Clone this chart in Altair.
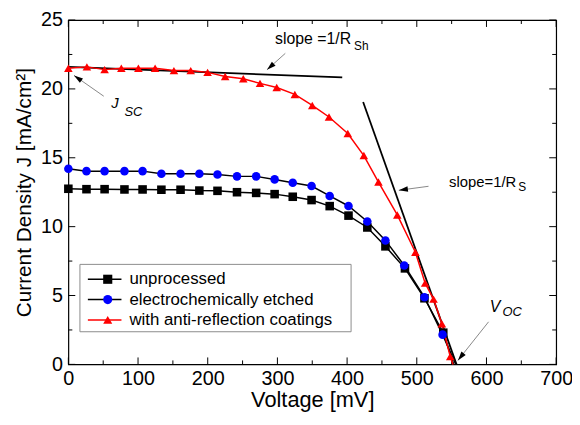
import math
import altair as alt
import pandas as pd

FONT = "Liberation Sans"

series_names = ["unprocessed", "electrochemically etched", "with anti-reflection coatings"]
line_colors = ["#000000", "#000000", "#ff0000"]
marker_colors = ["#000000", "#0000ff", "#ff0000"]
marker_shapes = ["square", "circle", "triangle-up"]

# unprocessed (black squares)
v_unproc = [0, 26, 52, 80.5, 106.5, 133.5, 161, 188, 214, 242, 269.5, 296, 322, 349, 375, 402, 429, 455, 483, 511, 538, 553]
j_unproc = [12.75, 12.72, 12.72, 12.70, 12.70, 12.68, 12.68, 12.62, 12.60, 12.50, 12.45, 12.36, 12.17, 11.93, 11.49, 10.80, 9.94, 8.57, 6.97, 4.80, 2.30, 0.0]
# electrochemically etched (blue circles)
v_etch = [0, 26, 52, 80.5, 106.5, 133.5, 161, 188, 214, 242, 269.5, 296, 322, 349, 375, 402, 429, 455, 482, 511, 537, 556]
j_etch = [14.2, 14.03, 14.03, 14.03, 14.03, 13.84, 13.84, 13.84, 13.79, 13.65, 13.65, 13.43, 13.19, 12.95, 12.23, 11.5, 10.37, 9.0, 7.18, 4.88, 2.16, 0.0]
# with anti-reflection coatings (red triangles)
v_arc = [0, 26.6, 52, 76, 100.5, 124.5, 151.5, 175.6, 199.8, 225, 251, 275, 299, 325, 350, 374, 401, 424, 445, 472, 498, 512, 524, 536, 548, 552]
j_arc = [21.5, 21.6, 21.4, 21.5, 21.5, 21.5, 21.33, 21.33, 21.2, 20.9, 20.74, 20.4, 20.1, 19.6, 18.8, 17.96, 16.76, 15.16, 13.24, 10.85, 8.14, 5.9, 4.74, 2.95, 0.57, 0.0]

# tangent lines (slope = 1/R_Sh and slope = 1/R_S)
tan_seg = ["sh", "sh", "s", "s"]
tan_v = [0, 393, 423, 557]
tan_j = [21.6, 20.83, 19.05, 0.0]

# annotation arrows: tail -> head
arr_tail_v = [311.3, 50.8, 516.8, 603.0]
arr_tail_j = [22.58, 19.47, 12.93, 3.09]
arr_head_v = [285.0, 8.1, 474.2, 559.0]
arr_head_j = [21.39, 20.98, 12.64, 0.29]

# annotation main texts (right end) and subscripts (left start)
main_text = ["slope =1/R", "J", "slope=1/R", "V"]
main_v = [405.8, 72.1, 642.8, 620.0]
main_j = [23.23, 18.6, 12.88, 3.81]
main_size = [16, 15, 15, 16]
main_style = ["normal", "italic", "normal", "italic"]
sub_text = ["Sh", "SC", "S", "OC"]
sub_v = [409.9, 80.5, 645.6, 622.9]
sub_j = [22.8, 18.0, 12.6, 3.5]
sub_size = [12, 13, 12, 13]
sub_style = ["normal", "italic", "normal", "italic"]

x_ticks = [i * 50 for i in range(15)]
y_ticks = [i * 2.5 for i in range(11)]

W, H = 493, 348
KX, KY = W / 700.0, H / 25.0
MAJOR, MINOR = 7.0, 4.0

rows = []
for name, vs, js in [(series_names[0], v_unproc, j_unproc),
                     (series_names[1], v_etch, j_etch),
                     (series_names[2], v_arc, j_arc)]:
    n = len(vs)
    for k, (v, j) in enumerate(zip(vs, js)):
        rows.append({"series": name, "V": v, "J": j, "order": k, "marker": k < n - 1})
df = pd.DataFrame(rows)

tan_df = pd.DataFrame({"seg": tan_seg, "V": tan_v, "J": tan_j})

angles = []
for tv, tj, hv, hj in zip(arr_tail_v, arr_tail_j, arr_head_v, arr_head_j):
    dx = (hv - tv) * KX
    dy = -(hj - tj) * KY
    angles.append(math.degrees(math.atan2(dx, -dy)) % 360)
arr_df = pd.DataFrame({"tv": arr_tail_v, "tj": arr_tail_j, "hv": arr_head_v, "hj": arr_head_j, "ang": angles})

main_df = pd.DataFrame({"t": main_text, "V": main_v, "J": main_j, "size": main_size, "style": main_style})
sub_df = pd.DataFrame({"t": sub_text, "V": sub_v, "J": sub_j, "size": sub_size, "style": sub_style})

# inward tick marks built from the tick values
xt = pd.DataFrame({"v": x_ticks})
xt["L"] = [MAJOR if v % 100 == 0 else MINOR for v in x_ticks]
yt = pd.DataFrame({"v": y_ticks})
yt["L"] = [MAJOR if v % 5 == 0 else MINOR for v in y_ticks]
xt_rows = []
for v, L in zip(xt["v"], xt["L"]):
    xt_rows.append({"v": v, "a": 0.0, "b": L / KY})
    xt_rows.append({"v": v, "a": 25.0, "b": 25.0 - L / KY})
yt_rows = []
for v, L in zip(yt["v"], yt["L"]):
    yt_rows.append({"v": v, "a": 0.0, "b": L / KX})
    yt_rows.append({"v": v, "a": 700.0, "b": 700.0 - L / KX})
xt_df = pd.DataFrame(xt_rows)
yt_df = pd.DataFrame(yt_rows)

xs = alt.Scale(domain=[0, 700], nice=False, zero=False)
ys = alt.Scale(domain=[0, 25], nice=False, zero=False)

ax_bottom = alt.Axis(orient="bottom", values=x_ticks, ticks=False, domain=False, grid=False,
                     labelExpr="datum.value % 100 === 0 ? datum.label : ''",
                     labelFlush=False, labelOverlap=False, labelFontSize=20, labelFont=FONT,
                     labelColor="black", labelPadding=4,
                     title="Voltage [mV]", titleFontSize=22, titleFont=FONT,
                     titleFontWeight="normal", titleColor="black", titlePadding=2)
ax_left = alt.Axis(orient="left", values=y_ticks, ticks=False, domain=False, grid=False,
                   labelExpr="datum.value % 5 === 0 ? datum.label : ''",
                   labelFlush=False, labelOverlap=False, labelFontSize=20, labelFont=FONT,
                   labelColor="black", labelPadding=6,
                   title="Current Density J  [mA/cm²]", titleFontSize=21, titleFont=FONT,
                   titleFontWeight="normal", titleColor="black", titlePadding=6)

col_scale = alt.Scale(domain=series_names, range=line_colors)

lines = alt.Chart(df).mark_line(strokeWidth=1.5).encode(
    x=alt.X("V:Q", scale=xs, axis=ax_bottom),
    y=alt.Y("J:Q", scale=ys, axis=ax_left),
    color=alt.Color("series:N", scale=col_scale, legend=None),
    order="order:Q",
)

points = alt.Chart(df).transform_filter("datum.marker").mark_point(filled=True, size=75, opacity=1).encode(
    x=alt.X("V:Q", scale=xs, axis=None),
    y=alt.Y("J:Q", scale=ys, axis=None),
    shape=alt.Shape("series:N", scale=alt.Scale(domain=series_names, range=marker_shapes), legend=None),
    fill=alt.Fill("series:N", scale=alt.Scale(domain=series_names, range=marker_colors), legend=None),
)

xticks_l = alt.Chart(xt_df).mark_rule(color="black", strokeWidth=1).encode(
    x=alt.X("v:Q", scale=xs, axis=None),
    y=alt.Y("a:Q", scale=ys, axis=None),
    y2="b:Q",
)
yticks_l = alt.Chart(yt_df).mark_rule(color="black", strokeWidth=1).encode(
    y=alt.Y("v:Q", scale=ys, axis=None),
    x=alt.X("a:Q", scale=xs, axis=None),
    x2="b:Q",
)

tangents = alt.Chart(tan_df).mark_line(color="black", strokeWidth=1.8).encode(
    x=alt.X("V:Q", scale=xs, axis=None),
    y=alt.Y("J:Q", scale=ys, axis=None),
    detail="seg:N",
)

arrow_lines = alt.Chart(arr_df).mark_rule(color="#7a7a7a", strokeWidth=0.9).encode(
    x=alt.X("tv:Q", scale=xs, axis=None),
    y=alt.Y("tj:Q", scale=ys, axis=None),
    x2="hv:Q",
    y2="hj:Q",
)

arrow_heads = alt.Chart(arr_df).mark_point(
    shape="M0,0L-0.45,1.5L0.45,1.5Z", filled=True, color="black", size=150, opacity=1
).encode(
    x=alt.X("hv:Q", scale=xs, axis=None),
    y=alt.Y("hj:Q", scale=ys, axis=None),
    angle=alt.Angle("ang:Q", scale=None),
)


def text_layer(frame, style, align):
    return alt.Chart(frame).transform_filter(f"datum.style == '{style}'").mark_text(
        align=align, baseline="alphabetic", font=FONT, color="black", fontStyle=style).encode(
        x=alt.X("V:Q", scale=xs, axis=None),
        y=alt.Y("J:Q", scale=ys, axis=None),
        text="t:N",
        size=alt.Size("size:Q", scale=None, legend=None),
    )


texts = [text_layer(main_df, "normal", "right"), text_layer(main_df, "italic", "right"),
         text_layer(sub_df, "normal", "left"), text_layer(sub_df, "italic", "left")]

# legend built from the series names
leg_rows = []
for i, name in enumerate(series_names):
    leg_rows.append({"label": name, "row": i, "lc": line_colors[i], "mc": marker_colors[i], "sh": marker_shapes[i]})
leg_df = pd.DataFrame(leg_rows).assign(J=lambda d: 6.18 - 1.475 * d["row"])

leg_box = alt.Chart(pd.DataFrame({"a": [0]})).mark_rect(fill="white", stroke="#8c8c8c", strokeWidth=1).encode(
    x=alt.datum(16.6, scale=xs, axis=None), x2=alt.datum(405.7),
    y=alt.datum(7.26, scale=ys, axis=None), y2=alt.datum(2.37),
)
leg_lines = alt.Chart(leg_df).mark_rule(strokeWidth=1.5).encode(
    x=alt.datum(28, scale=xs, axis=None), x2=alt.datum(76.2),
    y=alt.Y("J:Q", scale=ys, axis=None),
    color=alt.Color("lc:N", scale=None, legend=None),
)
leg_pts = alt.Chart(leg_df).mark_point(filled=True, size=85, opacity=1).encode(
    x=alt.datum(56.5, scale=xs, axis=None),
    y=alt.Y("J:Q", scale=ys, axis=None),
    shape=alt.Shape("sh:N", scale=None, legend=None),
    fill=alt.Fill("mc:N", scale=None, legend=None),
)
leg_text = alt.Chart(leg_df).mark_text(align="left", baseline="middle", font=FONT, fontSize=17, color="black").encode(
    x=alt.datum(87.6, scale=xs, axis=None),
    y=alt.Y("J:Q", scale=ys, axis=None),
    text="label:N",
)

chart = alt.layer(
    xticks_l, yticks_l, tangents, lines, points, arrow_lines, arrow_heads, *texts,
    leg_box, leg_lines, leg_pts, leg_text
).resolve_axis(x="independent", y="independent").properties(
    width=W, height=H,
    autosize=alt.AutoSizeParams(type="none"),
    padding={"left": 61, "top": 10, "right": 16, "bottom": 50},
    background="white",
).configure_view(stroke="black", strokeWidth=1.2)

chart.save("out.html", embed_options={"renderer": "svg", "actions": False})
